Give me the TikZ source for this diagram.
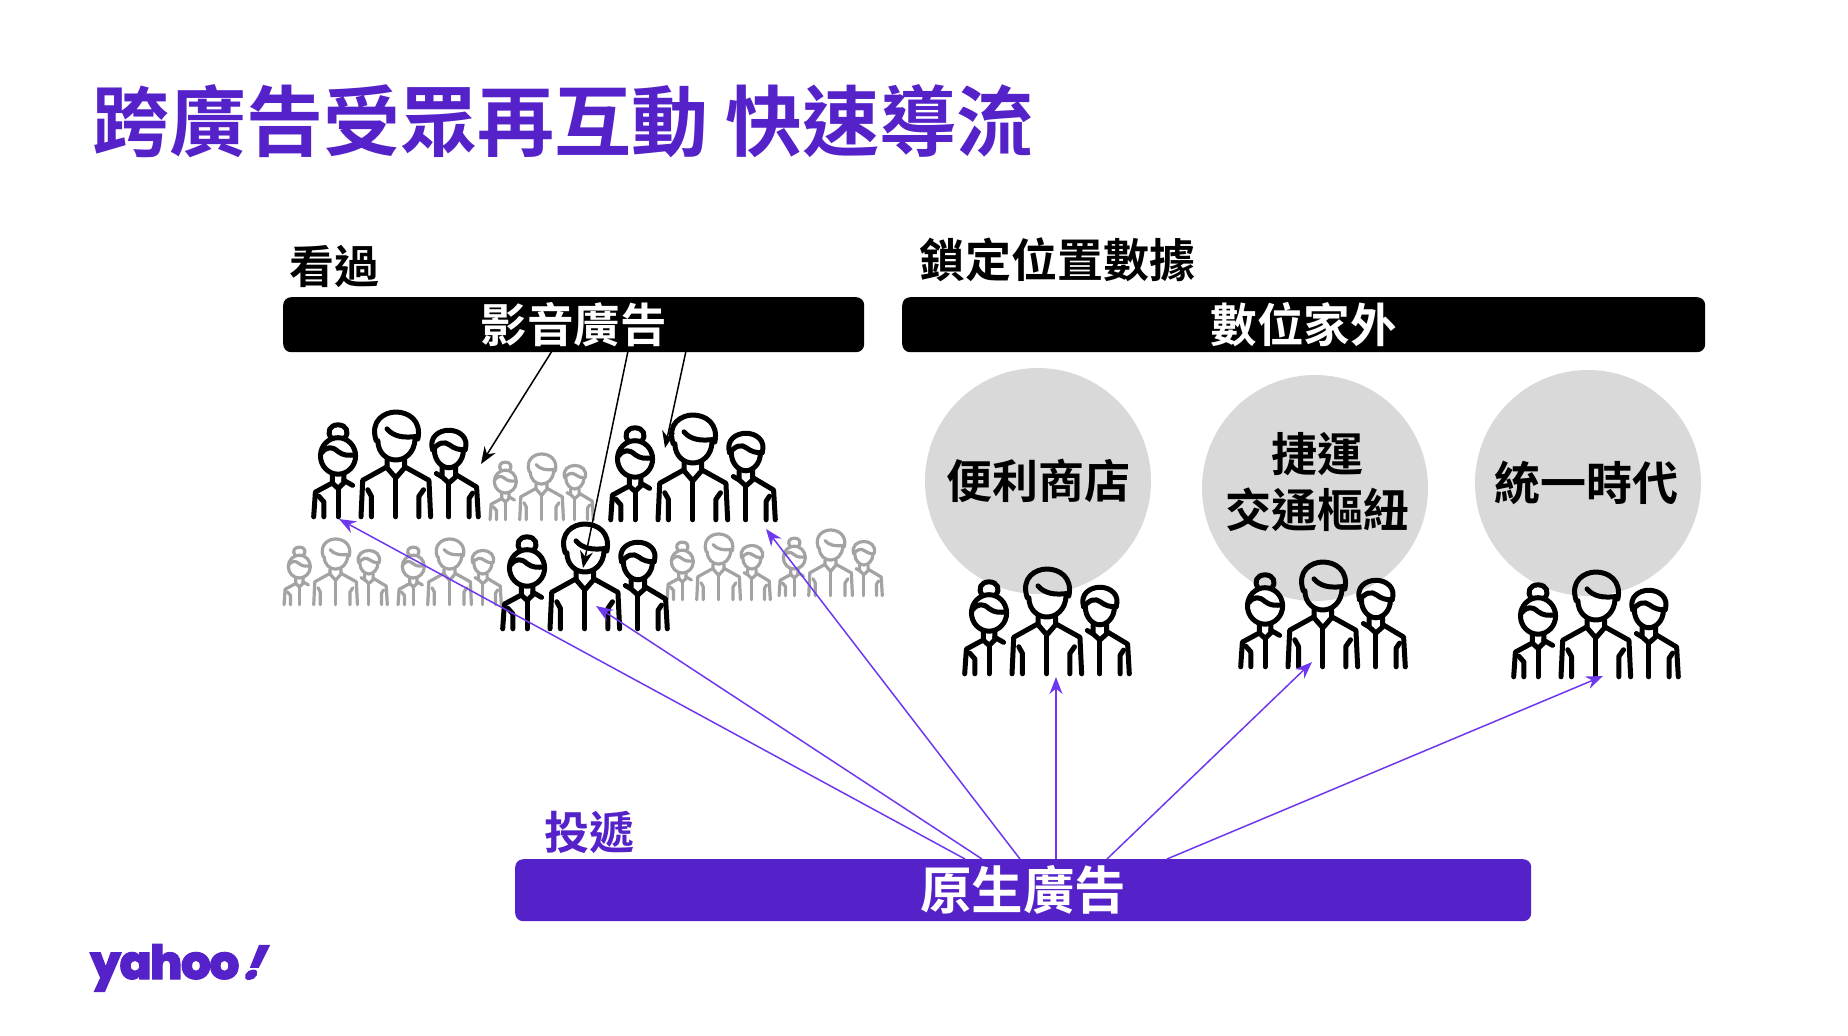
\documentclass[tikz,border=0pt]{standalone}
\usepackage{fontspec}
\setmainfont{Noto Sans CJK TC Bold}
\newfontfamily\logofont[FakeBold=2.5,LetterSpace=-3]{Poppins ExtraBold}
\newfontfamily\bangfont[FakeBold=3,FakeSlant=0.45]{Poppins ExtraBold}
\usetikzlibrary{arrows.meta}
\definecolor{yahoopurple}{HTML}{5521C8}
\definecolor{tippurple}{HTML}{6D38EE}
\definecolor{fadegray}{HTML}{A3A3A3}
\definecolor{spotgray}{HTML}{D9D9D9}

\tikzset{
  bar/.style={rounded corners=8pt, minimum height=55pt, inner sep=0pt, text=white},
  label/.style={inner sep=0pt, font=\fontsize{46}{50}\selectfont},
  spot/.style={circle, fill=spotgray, minimum size=226pt, inner sep=0pt, align=center,
    font=\fontsize{46}{56}\selectfont},
  spottext/.style={inner sep=0pt, align=center, font=\fontsize{46}{56}\selectfont},
  pics/trio/.style={code={
    % left figure
    \draw (58,78) .. controls (42,60) and (52,38) .. (77,38) .. controls (102,38) and (112,60) .. (96,78);
    \draw (77,130) ellipse [x radius=52, y radius=54];
    \draw (27,122) .. controls (45,100) and (60,102) .. (77,117) .. controls (92,129) and (107,129) .. (128,127);
    \draw (60,184) -- (60,210) -- (77,226) -- (94,210) -- (94,184);
    \draw (77,226) -- (77,310);
    \draw (60,210) -- (10,237) -- (5,310);
    \draw (20,249) -- (35,266) -- (35,310);
    \draw (94,202) -- (120,217);
    % middle figure
    \draw (190,85) .. controls (170,25) and (215,0) .. (248,0) .. controls (285,0) and (325,25) .. (313,80);
    \draw (195,85) .. controls (195,120) and (220,142) .. (248,142) .. controls (276,142) and (303,120) .. (305,80);
    \draw (222,50) .. controls (240,72) and (270,78) .. (312,72);
    \draw (222,142) -- (222,165) -- (248,195) -- (274,165) -- (274,142);
    \draw (222,162) -- (150,202) -- (145,310);
    \draw (274,162) -- (346,202) -- (351,310);
    \draw (165,230) -- (176,250) -- (176,310);
    \draw (330,230) -- (316,250) -- (316,310);
    \draw (248,195) -- (248,310);
    % right figure
    \draw (357,112) .. controls (345,75) and (375,54) .. (405,54) .. controls (435,54) and (465,75) .. (453,112);
    \draw (362,112) .. controls (362,145) and (385,165) .. (405,165) .. controls (425,165) and (448,145) .. (448,112);
    \draw (357,112) .. controls (375,90) and (392,85) .. (408,98) .. controls (420,108) and (435,112) .. (453,112);
    \draw (385,165) -- (385,192) -- (405,210) -- (425,192) -- (425,165);
    \draw (368,182) -- (385,192);
    \draw (405,210) -- (405,310);
    \draw (425,185) -- (487,222) -- (492,310);
    \draw (475,240) -- (465,255) -- (465,310);
  }},
  people/.style={color=black, scale=.338, line width=5pt, line cap=round, line join=round},
  faded/.style={color=fadegray, scale=.212, line width=3.2pt, line cap=round, line join=round},
  blackarrow/.style={draw=black, line width=1.5pt, -{Stealth[length=17pt,width=13pt]}},
  purplearrow/.style={draw=tippurple, line width=1.5pt, -{Stealth[length=17pt,width=13pt]}},
}

\begin{document}
\begin{tikzpicture}[x=1pt,y=-1pt]
  \useasboundingbox (0,0) rectangle (1848,1036);

  \node[anchor=west, inner sep=0pt, text=yahoopurple, font=\fontsize{77}{80}\selectfont] (title) at (92,121) {跨廣告受眾再互動 快速導流};
  \node[label, anchor=west, font=\fontsize{45}{50}\selectfont] (seen) at (289,266) {看過};
  \node[label, anchor=west] (location) at (919,260) {鎖定位置數據};

  \node[bar, fill=black, anchor=north west, minimum width=581pt, font=\fontsize{46.5}{50}\selectfont] (video) at (283,297) {影音廣告};
  \node[bar, fill=black, anchor=north west, minimum width=803pt, font=\fontsize{46.5}{50}\selectfont] (outdoor) at (902,297) {數位家外};
  \node[bar, fill=yahoopurple, anchor=north west, minimum width=1016pt, minimum height=62pt, font=\fontsize{51.5}{55}\selectfont] (native) at (515,859) {原生廣告};
  \node[label, anchor=west, text=yahoopurple, font=\fontsize{45}{50}\selectfont] (deliver) at (544,832) {投遞};

  \node[spot] (store) at (1038,481) {便利商店};
  \node[spot] (metro) at (1315,488) {};
  \node[spot] (times) at (1588,483) {};
  \node[spottext] (metrotext) at (1317,482) {捷運\\交通樞紐};
  \node[spottext] (timestext) at (1586,483) {統一時代};

  % crowd in the back
  \foreach \px/\py/\nm in {489/454/gb, 283/539/gc, 397/539/gd, 666/534/ge, 778/530/gf}
    \pic[faded] (\nm) at (\px,\py) {trio};
  % the people reached
  \foreach \px/\py/\nm in {312/412/pa, 609/415/pb, 501/524/pc, 963/569/ra, 1239/562/rb, 1512/572/rc}
    \pic[people] (\nm) at (\px,\py) {trio};

  % arrow ends
  \coordinate (v1) at (552,351);
  \coordinate (v2) at (628,351);
  \coordinate (v3) at (686,351);
  \coordinate (e1) at (481,464);
  \coordinate (e2) at (583,568);
  \coordinate (e3) at (665,448);

  \coordinate (n1) at (965,859);
  \coordinate (n2) at (982,859);
  \coordinate (n3) at (1020,859);
  \coordinate (n4) at (1056,859);
  \coordinate (n5) at (1107,859);
  \coordinate (n6) at (1167,859);
  \coordinate (t1) at (339,519);
  \coordinate (t2) at (596,606);
  \coordinate (t3) at (766,529);
  \coordinate (t4) at (1056,677);
  \coordinate (t5) at (1312,662);
  \coordinate (t6) at (1603,676);

  \foreach \from/\to in {v1/e1, v2/e2, v3/e3}
    \draw[blackarrow] (\from) -- (\to);
  \foreach \from/\to in {n1/t1, n2/t2, n3/t3, n4/t4, n5/t5, n6/t6}
    \draw[purplearrow] (\from) -- (\to);

  \node[anchor=base west, inner sep=0pt, text=yahoopurple, font=\logofont\fontsize{47}{50}\selectfont] (logo) at (90,979) {yahoo};
  \node[anchor=base west, inner sep=0pt, text=yahoopurple, font=\bangfont\fontsize{45}{50}\selectfont] (bang) at (logo.base east) {!};
\end{tikzpicture}
\end{document}
